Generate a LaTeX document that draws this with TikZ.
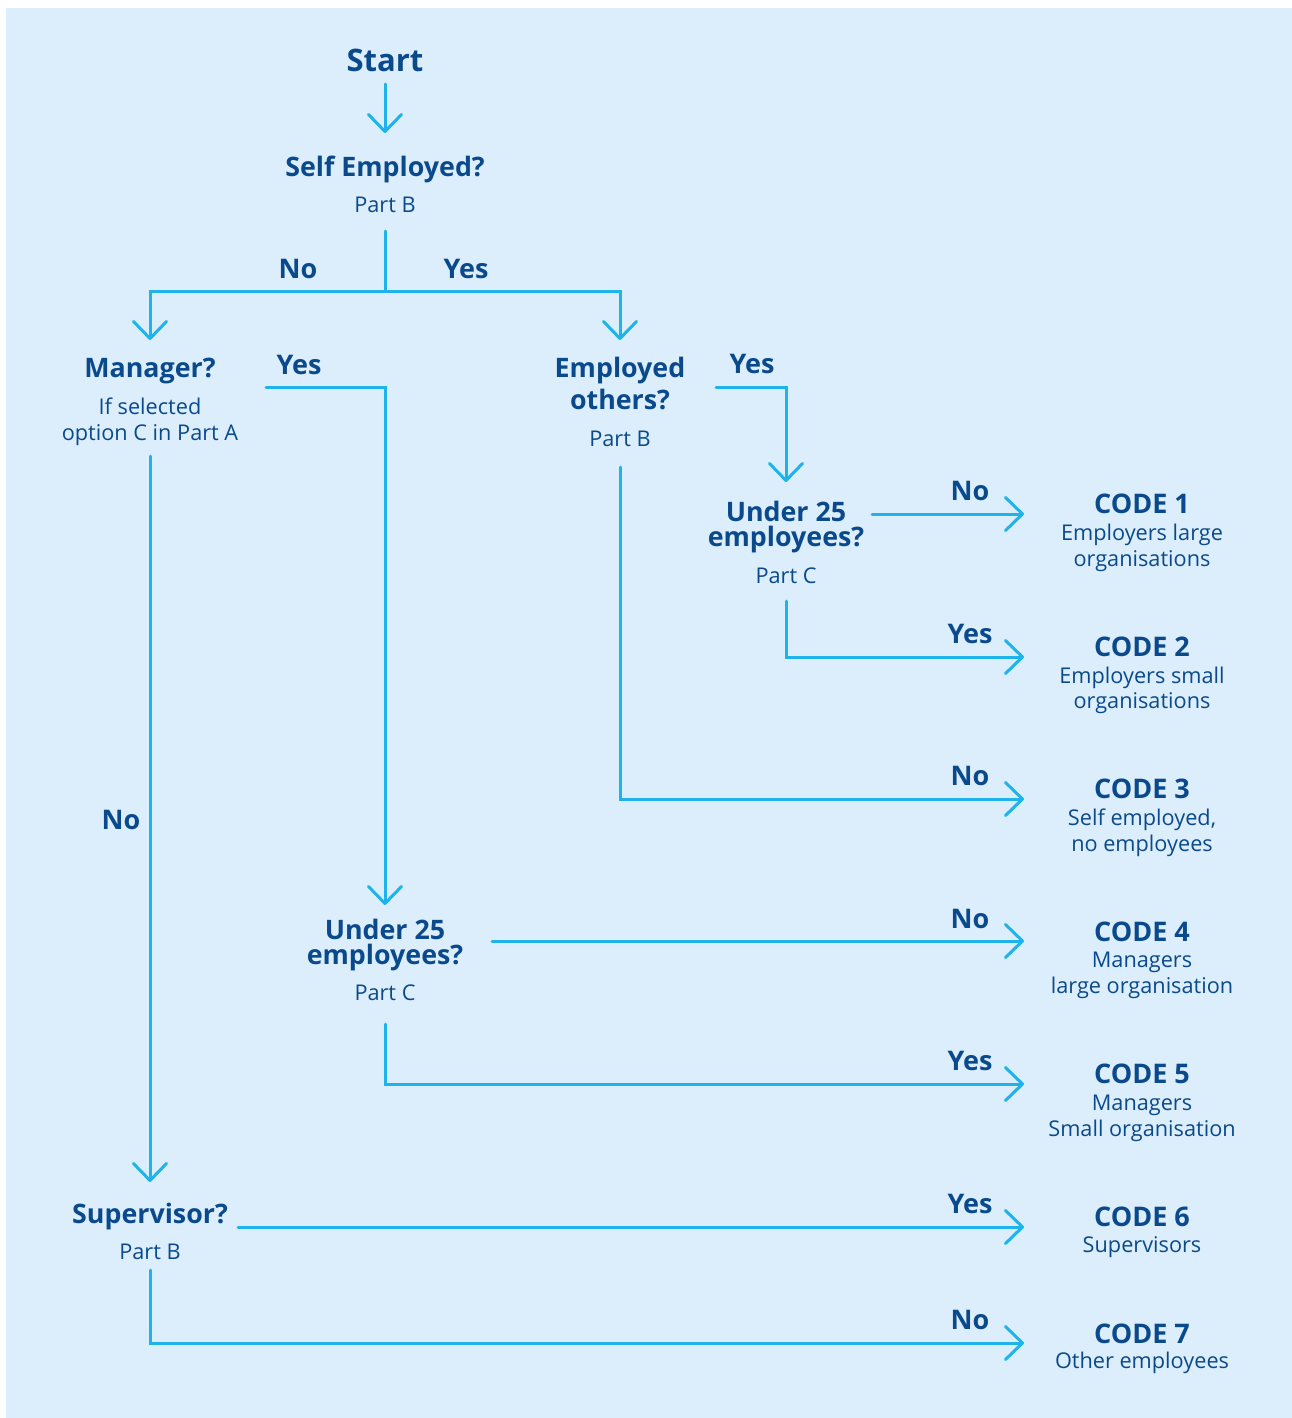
\documentclass[tikz,border=0pt]{standalone}
\usepackage{fontspec}
\setmainfont{Open Sans}
\usetikzlibrary{arrows.meta}
\definecolor{bg}{HTML}{DCEEFB}
\definecolor{ink}{HTML}{0A4A8C}
\definecolor{flow}{HTML}{1EB3EA}
\tikzset{
  ttl/.style={anchor=base, text=ink, font=\bfseries\fontsize{26.8}{28}\selectfont, inner sep=0pt},
  bigttl/.style={anchor=base, text=ink, font=\bfseries\fontsize{31}{34}\selectfont, inner sep=0pt},
  codettl/.style={anchor=base, text=ink, font=\bfseries\fontsize{27}{28}\selectfont, inner sep=0pt},
  sub/.style={anchor=base, text=ink, font=\fontsize{21.7}{24}\selectfont, inner sep=0pt},
  lbl/.style={anchor=base, text=ink, font=\bfseries\fontsize{27}{28}\selectfont, inner sep=0pt},
  conn/.style={draw=flow, line width=3pt, line cap=round, line join=miter},
  arr/.style={conn, -{Straight Barb[length=17pt,width=33pt,round]}},
}
\begin{document}
\begin{tikzpicture}[x=1pt,y=-1pt]
\useasboundingbox (0,0) rectangle (1292,1418);
\fill[white] (0,0) rectangle (1292,1418);
\fill[bg] (6,8) rectangle (1292,1418);

% ---- question nodes ----
\node[bigttl] (start) at (385,72) {Start};
\node[ttl] (se) at (385,176) {Self Employed?};
\node[sub] (se-sub) at (385,212) {Part B};

\node[ttl] (mgr) at (150,377) {Manager?};
\node[sub] (mgr-sub1) at (150,414) {If selected};
\node[sub] (mgr-sub2) at (150,440) {option C in Part A};

\node[ttl] (emp1) at (620,377) {Employed};
\node[ttl] (emp2) at (620,409) {others?};
\node[sub] (emp-sub) at (620,446) {Part B};

\node[ttl] (ua1) at (786,521) {Under 25};
\node[ttl] (ua2) at (786,546) {employees?};
\node[sub] (ua-sub) at (786,583) {Part C};

\node[ttl] (ub1) at (385,939) {Under 25};
\node[ttl] (ub2) at (385,964) {employees?};
\node[sub] (ub-sub) at (385,1000) {Part C};

\node[ttl] (sup) at (150,1223) {Supervisor?};
\node[sub] (sup-sub) at (150,1259) {Part B};

% ---- code nodes ----
\node[codettl] (c1) at (1142,513) {CODE 1};
\node[sub] (c1a) at (1142,540) {Employers large};
\node[sub] (c1b) at (1142,566) {organisations};

\node[codettl] (c2) at (1142,656) {CODE 2};
\node[sub] (c2a) at (1142,683) {Employers small};
\node[sub] (c2b) at (1142,708) {organisations};

\node[codettl] (c3) at (1142,798) {CODE 3};
\node[sub] (c3a) at (1142,825) {Self employed,};
\node[sub] (c3b) at (1142,851) {no employees};

\node[codettl] (c4) at (1142,941) {CODE 4};
\node[sub] (c4a) at (1142,967) {Managers};
\node[sub] (c4b) at (1142,993) {large organisation};

\node[codettl] (c5) at (1142,1083) {CODE 5};
\node[sub] (c5a) at (1142,1110) {Managers};
\node[sub] (c5b) at (1142,1136) {Small organisation};

\node[codettl] (c6) at (1142,1226) {CODE 6};
\node[sub] (c6a) at (1142,1252) {Supervisors};

\node[codettl] (c7) at (1142,1343) {CODE 7};
\node[sub] (c7a) at (1142,1368) {Other employees};

% ---- branch labels ----
\node[lbl] (l-se-no) at (298,278) {No};
\node[lbl] (l-se-yes) at (466,278) {Yes};
\node[lbl] (l-mgr-yes) at (299,374) {Yes};
\node[lbl] (l-mgr-no) at (121,829) {No};
\node[lbl] (l-emp-yes) at (752,373) {Yes};
\node[lbl] (l-ua-no) at (970,500) {No};
\node[lbl] (l-ua-yes) at (970,643) {Yes};
\node[lbl] (l-emp-no) at (970,785) {No};
\node[lbl] (l-ub-no) at (970,928) {No};
\node[lbl] (l-ub-yes) at (970,1070) {Yes};
\node[lbl] (l-sup-yes) at (970,1213) {Yes};
\node[lbl] (l-sup-no) at (970,1329) {No};

% ---- connector points ----
\coordinate (start-out) at (385,84);
\coordinate (se-in) at (385,133);
\coordinate (se-out) at (385,231);
\coordinate (se-j) at (385,291);
\coordinate (se-jl) at (150,291);
\coordinate (se-jr) at (620,291);
\coordinate (mgr-in) at (150,340);
\coordinate (emp-in) at (620,340);

\coordinate (mgr-yes-out) at (266,387);
\coordinate (mgr-yes-bend) at (385,387);
\coordinate (ub-in) at (385,905);
\coordinate (mgr-no-out) at (150,456);
\coordinate (sup-in) at (150,1182);

\coordinate (emp-yes-out) at (716,387);
\coordinate (emp-yes-bend) at (786,387);
\coordinate (ua-in) at (786,482);

\coordinate (ua-no-out) at (872,514);
\coordinate (c1-in) at (1024,514);
\coordinate (ua-yes-out) at (786,601);
\coordinate (ua-yes-bend) at (786,657);
\coordinate (c2-in) at (1024,657);

\coordinate (emp-no-out) at (620,467);
\coordinate (emp-no-bend) at (620,799);
\coordinate (c3-in) at (1024,799);

\coordinate (ub-no-out) at (492,941);
\coordinate (c4-in) at (1024,941);
\coordinate (ub-yes-out) at (385,1024);
\coordinate (ub-yes-bend) at (385,1084);
\coordinate (c5-in) at (1024,1084);

\coordinate (sup-yes-out) at (238,1227);
\coordinate (c6-in) at (1024,1227);
\coordinate (sup-no-out) at (150,1270);
\coordinate (sup-no-bend) at (150,1343);
\coordinate (c7-in) at (1024,1343);

% ---- connectors ----
\draw[arr] (start-out) -- (se-in);
\draw[conn] (se-out) -- (se-j);
\draw[arr] (se-j) -- (se-jl) -- (mgr-in);
\draw[arr] (se-j) -- (se-jr) -- (emp-in);

\draw[arr] (mgr-yes-out) -- (mgr-yes-bend) -- (ub-in);
\draw[arr] (mgr-no-out) -- (sup-in);

\draw[arr] (emp-yes-out) -- (emp-yes-bend) -- (ua-in);
\draw[arr] (ua-no-out) -- (c1-in);
\draw[arr] (ua-yes-out) -- (ua-yes-bend) -- (c2-in);
\draw[arr] (emp-no-out) -- (emp-no-bend) -- (c3-in);

\draw[arr] (ub-no-out) -- (c4-in);
\draw[arr] (ub-yes-out) -- (ub-yes-bend) -- (c5-in);

\draw[arr] (sup-yes-out) -- (c6-in);
\draw[arr] (sup-no-out) -- (sup-no-bend) -- (c7-in);
\end{tikzpicture}
\end{document}
